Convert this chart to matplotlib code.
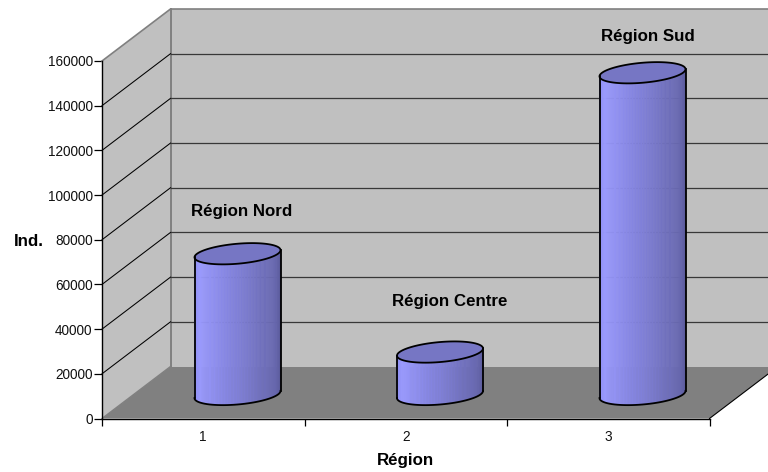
import numpy as np
import matplotlib
matplotlib.use("Agg")
import matplotlib.pyplot as plt
from matplotlib.collections import PolyCollection
from matplotlib.colors import LinearSegmentedColormap

plt.rcParams['font.family'] = ['Liberation Sans', 'DejaVu Sans']

categories = [1, 2, 3]
values = [63000, 19000, 144000]
names = ['Région Nord', 'Région Centre', 'Région Sud']
name_heights = [92800, 52500, 171100]
name_positions = [1.19, 2.215, 3.195]
y_ticks = list(range(0, 160001, 20000))

W, H = 768, 472
L, R, B, T = 102, 709.5, 418.5, 61
fig = plt.figure(figsize=(W / 100, H / 100), dpi=100, facecolor='white')
ax = fig.add_axes([L / W, 1 - B / H, (R - L) / W, (B - T) / H])
ax.set_xlim(0.5, 3.5)
ax.set_ylim(0, 160000)
ax.patch.set_visible(False)

PX = 3 / (R - L)          # data x per pixel
PY = 160000 / (B - T)     # data y per pixel
DX = 68.5 * PX            # depth shift
DY = 52 * PY
X0, X1 = 0.5, 3.5
YMAX = 160000
WALL = '#C0C0C0'
FLOOR = '#808080'
EDGE = '#808080'

# walls and floor
ax.fill([X0, X0 + DX, X1 + DX, X1], [0, DY, DY, 0], color=FLOOR, lw=0, zorder=1, clip_on=False)
ax.fill([X0 + DX, X1 + DX, X1 + DX, X0 + DX], [DY, DY, YMAX + DY, YMAX + DY], color=WALL, lw=0, zorder=1, clip_on=False)
ax.fill([X0, X0 + DX, X0 + DX, X0], [0, DY, YMAX + DY, YMAX], color=WALL, lw=0, zorder=1, clip_on=False)
ax.plot([X0, X0 + DX, X1 + DX], [YMAX, YMAX + DY, YMAX + DY], color=EDGE, lw=1.2, zorder=2, clip_on=False)
ax.plot([X0 + DX, X0 + DX], [DY, YMAX + DY], color=EDGE, lw=1.4, zorder=2, clip_on=False)
ax.plot([X0, X0 + DX], [0, DY], color=EDGE, lw=1, zorder=2, clip_on=False)
ax.plot([X1, X1 + DX], [0, DY], color='black', lw=0.8, zorder=2, clip_on=False)

for v in y_ticks[1:-1]:
    ax.plot([X0, X0 + DX], [v, v + DY], color='black', lw=0.75, zorder=2, clip_on=False)
    ax.plot([X0 + DX, X1 + DX], [v + DY, v + DY], color='#383838', lw=0.9, zorder=2, clip_on=False)

# cylinders
stops = ['#8A8AEE', '#9A9AFF', '#8E8EEE', '#8080D8', '#7272C0', '#6868B0', '#5A5A98']
cmap = LinearSegmentedColormap.from_list('cyl', stops)
RX, RY, TILT = 43, 10, 3.6


def ring(cx, cy, t):
    return cx + RX * np.cos(t) * PX, cy + (TILT * np.cos(t) + RY * np.sin(t)) * PY


for c, v in zip(categories, values):
    cx = c + DX / 2
    base = DY / 2 - 2 * PY
    top = base + v
    t = np.linspace(np.pi, 2 * np.pi, 87)
    xs, lower = ring(cx, 0, t)
    polys = []
    cols = []
    for i in range(len(t) - 1):
        polys.append([(xs[i], base + lower[i]), (xs[i + 1], base + lower[i + 1]),
                      (xs[i + 1], top + lower[i + 1]), (xs[i], top + lower[i])])
        cols.append(cmap(i / (len(t) - 2)))
    ax.add_collection(PolyCollection(polys, facecolors=cols, edgecolors=cols, linewidths=0.4,
                                     zorder=3, clip_on=False))
    ta = np.linspace(0, 2 * np.pi, 200)
    ex, ey = ring(cx, top, ta)
    ax.fill(ex, ey, facecolor='#7676C4', edgecolor='black', lw=1.3, zorder=4, clip_on=False)
    bx, by = ring(cx, base, t)
    ax.plot(bx, by, color='black', lw=1.3, zorder=4, clip_on=False)
    ax.plot([cx - RX * PX] * 2, [base - TILT * PY, top - TILT * PY], color='black', lw=1.3, zorder=4, clip_on=False)
    ax.plot([cx + RX * PX] * 2, [base + TILT * PY, top + TILT * PY], color='black', lw=1.3, zorder=4, clip_on=False)

for n, x, y in zip(names, name_positions, name_heights):
    ax.text(x, y, n, ha='center', va='center', fontsize=12.2, fontweight='bold', color='black', zorder=5)

# axes
for s in ('top', 'right'):
    ax.spines[s].set_visible(False)
for s in ('left', 'bottom'):
    ax.spines[s].set_linewidth(1.0)
    ax.spines[s].set_zorder(6)
ax.set_yticks(y_ticks)
ax.set_yticklabels([str(v) for v in y_ticks], fontsize=9.8, color='#111111')
ax.tick_params(axis='y', length=5.5, width=0.9, pad=1.2)
ax.set_xticks(categories)
ax.set_xticklabels([str(c) for c in categories], fontsize=9.8, color='#111111')
ax.tick_params(axis='x', which='major', length=0, pad=8)
ax.set_xticks([0.5, 1.5, 2.5, 3.5], minor=True)
ax.tick_params(axis='x', which='minor', length=5, width=0.9)

fig.text(405 / W, 1 - 460 / H, 'Région', ha='center', va='center', fontsize=12.2, fontweight='bold')
fig.text(29 / W, 1 - 241 / H, 'Ind.', ha='center', va='center', fontsize=12.2, fontweight='bold')

fig.savefig('out.png', dpi=100)
